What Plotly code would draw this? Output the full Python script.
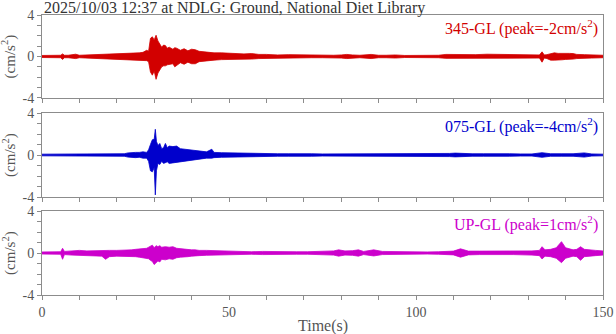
"""Three-component accelerogram, NDLG ground station."""
import plotly.graph_objects as go
from plotly.subplots import make_subplots

FONT = "Liberation Serif"
AXIS_GRAY = "#8c8c8c"
TEXT_GRAY = "#555555"

TITLE = "2025/10/03 12:37 at NDLG: Ground, National Diet Library"
LABELS = ["345-GL (peak=-2cm/s<sup>2</sup>)",
          "075-GL (peak=-4cm/s<sup>2</sup>)",
          "UP-GL (peak=1cm/s<sup>2</sup>)"]
COLORS = ["#d20000", "#0000cc", "#cc00cc"]

# envelope of each trace (upper / lower amplitude, cm/s^2)
t_345 = [0, 2, 4, 5, 5.5, 6, 7, 8.5, 9, 10,
         12, 14, 16, 18, 20, 22, 24, 25, 26, 27,
         28, 28.5, 29, 29.5, 30, 30.5, 31, 31.5, 32, 32.5,
         33, 33.5, 34, 35, 35.5, 36, 37, 38, 39, 40,
         41, 42, 43, 44, 45, 46, 48, 50, 52, 54,
         56, 58, 60, 63, 66, 69, 72, 75, 78, 80,
         81.5, 83, 85, 88, 90, 92, 94.5, 97, 100, 103,
         106, 108, 110, 113, 116, 119, 122, 125, 128, 131,
         133, 133.7, 134.3, 135, 136, 137, 138, 139, 140, 141,
         142, 143, 145, 147, 150]
hi_345 = [0.10, 0.10, 0.12, 0.12, 0.25, 0.12, 0.12, 0.15, 0.22, 0.12,
          0.15, 0.15, 0.20, 0.22, 0.25, 0.25, 0.30, 0.30, 0.35, 0.40,
          0.60, 0.50, 1.75, 1.90, 1.60, 2.05, 1.50, 1.20, 0.90, 1.10,
          1.05, 0.80, 0.90, 0.70, 0.85, 0.80, 0.60, 0.75, 0.55, 0.70,
          0.65, 0.50, 0.45, 0.45, 0.40, 0.35, 0.35, 0.30, 0.28, 0.25,
          0.28, 0.20, 0.20, 0.15, 0.18, 0.15, 0.15, 0.12, 0.12, 0.15,
          0.20, 0.15, 0.12, 0.20, 0.12, 0.12, 0.15, 0.10, 0.10, 0.10,
          0.12, 0.20, 0.18, 0.20, 0.18, 0.22, 0.20, 0.18, 0.18, 0.15,
          0.15, 0.45, 0.15, 0.18, 0.30, 0.35, 0.30, 0.32, 0.28, 0.30,
          0.28, 0.20, 0.18, 0.15, 0.12]
lo_345 = [-0.10, -0.10, -0.12, -0.12, -0.28, -0.12, -0.12, -0.15, -0.20, -0.12,
          -0.15, -0.15, -0.20, -0.22, -0.25, -0.28, -0.30, -0.32, -0.35, -0.40,
          -0.40, -0.50, -1.50, -1.80, -1.40, -2.20, -1.60, -1.30, -1.00, -0.90,
          -0.90, -0.80, -0.75, -0.70, -1.00, -0.85, -0.60, -0.75, -0.55, -0.70,
          -0.70, -0.50, -0.45, -0.40, -0.40, -0.35, -0.30, -0.30, -0.25, -0.25,
          -0.25, -0.20, -0.18, -0.15, -0.15, -0.15, -0.12, -0.12, -0.12, -0.15,
          -0.20, -0.15, -0.12, -0.20, -0.12, -0.12, -0.15, -0.10, -0.10, -0.10,
          -0.12, -0.18, -0.18, -0.20, -0.18, -0.20, -0.20, -0.18, -0.15, -0.15,
          -0.15, -0.55, -0.15, -0.20, -0.35, -0.35, -0.30, -0.32, -0.28, -0.30,
          -0.25, -0.20, -0.15, -0.15, -0.12]

t_075 = [0, 3, 5, 5.3, 5.6, 8, 11, 14, 16, 18,
         20, 22, 23, 24, 25, 26, 27, 28, 28.5, 29,
         29.5, 30, 30.3, 30.6, 31, 31.5, 32, 32.5, 33, 33.5,
         34, 35, 36, 37, 38, 39, 40, 41, 42, 43,
         44, 45.4, 46, 48, 50, 52, 54, 57, 60, 63,
         66, 69, 72, 75, 78, 81, 84, 88.3, 91, 94,
         97, 100, 103, 106, 109, 110.5, 112, 115, 118, 121,
         123, 125, 128, 131, 133.7, 136, 139, 142, 145, 147,
         150]
hi_075 = [0.08, 0.08, 0.08, 0.15, 0.08, 0.08, 0.10, 0.10, 0.15, 0.10,
          0.10, 0.12, 0.20, 0.25, 0.25, 0.25, 0.30, 0.25, 0.50, 1.00,
          1.45, 1.50, 2.45, 1.30, 0.90, 1.10, 0.60, 0.70, 1.10, 0.70,
          0.85, 0.80, 0.85, 0.60, 0.55, 0.55, 0.45, 0.45, 0.35, 0.30,
          0.30, 0.55, 0.25, 0.22, 0.20, 0.20, 0.15, 0.12, 0.12, 0.12,
          0.12, 0.15, 0.12, 0.10, 0.10, 0.10, 0.10, 0.15, 0.10, 0.15,
          0.08, 0.08, 0.08, 0.10, 0.15, 0.18, 0.15, 0.12, 0.12, 0.12,
          0.18, 0.12, 0.10, 0.10, 0.22, 0.12, 0.12, 0.12, 0.20, 0.10,
          0.08]
lo_075 = [-0.08, -0.08, -0.08, -0.15, -0.08, -0.08, -0.10, -0.10, -0.15, -0.10,
          -0.10, -0.12, -0.20, -0.25, -0.25, -0.22, -0.30, -0.30, -0.60, -1.50,
          -1.60, -1.20, -3.80, -1.50, -0.80, -0.90, -0.60, -0.80, -0.75, -0.65,
          -0.80, -0.75, -0.70, -0.60, -0.55, -0.50, -0.45, -0.40, -0.35, -0.30,
          -0.30, -0.30, -0.25, -0.22, -0.20, -0.18, -0.15, -0.12, -0.12, -0.12,
          -0.12, -0.15, -0.12, -0.10, -0.10, -0.10, -0.10, -0.15, -0.10, -0.15,
          -0.08, -0.08, -0.08, -0.10, -0.15, -0.18, -0.15, -0.12, -0.12, -0.12,
          -0.18, -0.12, -0.10, -0.10, -0.22, -0.12, -0.12, -0.12, -0.20, -0.10,
          -0.08]

t_up = [0, 3, 5, 5.5, 6, 8, 10, 12, 14, 16,
        17, 18, 20, 22, 24, 25, 26, 27, 28, 28.5,
        29, 29.5, 30, 30.5, 31, 31.5, 32, 33, 34, 35,
        36, 37, 38, 39, 40, 41, 42, 44, 46, 48,
        50, 53, 56, 59, 62, 65, 68, 71, 74, 76,
        78, 79.3, 81, 83, 84.6, 86, 88.7, 91, 94, 97,
        100, 103, 106, 108, 110, 111.9, 114, 117, 120, 123,
        126, 129, 131, 133, 133.7, 134.5, 136, 137.5, 138.9, 140,
        141, 142, 143, 144, 145, 146, 148, 150]
hi_up = [0.10, 0.10, 0.12, 0.45, 0.15, 0.20, 0.25, 0.20, 0.22, 0.30,
         0.30, 0.25, 0.25, 0.25, 0.30, 0.35, 0.40, 0.40, 0.45, 0.55,
         0.65, 0.75, 0.50, 0.70, 0.60, 0.70, 0.55, 0.60, 0.55, 0.60,
         0.45, 0.40, 0.40, 0.35, 0.30, 0.30, 0.25, 0.25, 0.22, 0.18,
         0.15, 0.15, 0.12, 0.15, 0.12, 0.12, 0.12, 0.12, 0.15, 0.12,
         0.20, 0.30, 0.20, 0.22, 0.30, 0.15, 0.30, 0.15, 0.12, 0.12,
         0.12, 0.10, 0.12, 0.15, 0.18, 0.40, 0.18, 0.18, 0.18, 0.15,
         0.15, 0.15, 0.20, 0.25, 0.60, 0.30, 0.35, 0.50, 1.08, 0.50,
         0.40, 0.30, 0.35, 0.60, 0.35, 0.30, 0.25, 0.20]
lo_up = [-0.10, -0.10, -0.12, -0.60, -0.15, -0.20, -0.22, -0.20, -0.25, -0.30,
         -0.60, -0.35, -0.30, -0.30, -0.30, -0.35, -0.40, -0.45, -0.50, -0.55,
         -0.70, -0.80, -1.10, -0.90, -0.75, -0.85, -0.60, -0.65, -0.55, -0.60,
         -0.45, -0.40, -0.40, -0.35, -0.30, -0.30, -0.25, -0.22, -0.20, -0.18,
         -0.15, -0.15, -0.12, -0.15, -0.12, -0.12, -0.12, -0.12, -0.15, -0.12,
         -0.20, -0.30, -0.20, -0.22, -0.30, -0.15, -0.28, -0.15, -0.12, -0.12,
         -0.12, -0.10, -0.12, -0.15, -0.18, -0.40, -0.18, -0.15, -0.18, -0.15,
         -0.15, -0.15, -0.20, -0.25, -0.57, -0.30, -0.35, -0.50, -0.92, -0.50,
         -0.40, -0.30, -0.35, -0.70, -0.35, -0.30, -0.25, -0.20]

SERIES = [(t_345, hi_345, lo_345), (t_075, hi_075, lo_075), (t_up, hi_up, lo_up)]

fig = make_subplots(rows=3, cols=1, shared_xaxes=True, vertical_spacing=0.05)

for i, (t, hi, lo) in enumerate(SERIES):
    row = i + 1
    fig.add_trace(go.Scatter(x=t, y=hi, mode="lines",
                             line=dict(color=COLORS[i], width=0.8),
                             showlegend=False, hoverinfo="skip"), row=row, col=1)
    fig.add_trace(go.Scatter(x=t, y=lo, mode="lines", fill="tonexty",
                             fillcolor=COLORS[i],
                             line=dict(color=COLORS[i], width=0.8),
                             showlegend=False, hoverinfo="skip"), row=row, col=1)

# pixel-matched panel heights (plot area 15..295 px)
domains = [[0.7036, 1.0], [0.35, 0.65], [0.0, 0.30]]
for i in range(3):
    sfx = "" if i == 0 else str(i + 1)
    fig.layout["yaxis" + sfx].update(
        domain=domains[i], range=[-4, 4], automargin=False,
        tickvals=[-4, 0, 4], ticktext=["-4", "0", "4"],
        ticks="outside", ticklen=4, tickcolor=AXIS_GRAY,
        minor=dict(dtick=1, ticks="outside", ticklen=4, tickcolor=AXIS_GRAY),
        showline=True, linecolor=AXIS_GRAY, linewidth=1, mirror=True,
        showgrid=False, zeroline=False,
        tickfont=dict(family=FONT, size=14, color=TEXT_GRAY),
    )
    fig.layout["xaxis" + sfx].update(
        range=[0, 150], tickvals=[0, 50, 100, 150], automargin=False,
        ticks="outside", ticklen=4, tickcolor=AXIS_GRAY,
        minor=dict(dtick=10, ticks="outside", ticklen=4, tickcolor=AXIS_GRAY),
        showline=True, linecolor=AXIS_GRAY, linewidth=1, mirror=True,
        showgrid=False, zeroline=False,
        tickfont=dict(family=FONT, size=14, color=TEXT_GRAY),
    )
    fig.add_annotation(text=LABELS[i], xref=f"x{sfx} domain", yref=f"y{sfx} domain",
                       x=0.995, y=1.0, xanchor="right", yanchor="top",
                       showarrow=False,
                       font=dict(family=FONT, size=16, color=COLORS[i]))
    mid = sum(domains[i]) / 2
    fig.add_annotation(text="(cm/s<sup>2</sup>)", xref="paper", yref="paper",
                       x=-0.059, y=mid, xanchor="center", yanchor="middle",
                       textangle=-90, showarrow=False,
                       font=dict(family=FONT, size=15, color=TEXT_GRAY))

fig.add_annotation(text="Time(s)", xref="paper", yref="paper",
                   x=0.5, y=-0.111, xanchor="center", yanchor="middle",
                   showarrow=False,
                   font=dict(family=FONT, size=16, color=TEXT_GRAY))

fig.add_annotation(text=TITLE, xref="paper", yref="paper", x=0.0, y=1.025,
                   xanchor="left", yanchor="middle", showarrow=False,
                   font=dict(family=FONT, size=16, color="#333333"))

fig.update_layout(
    width=616, height=334,
    margin=dict(l=42, r=13, t=15, b=39, autoexpand=False),
    paper_bgcolor="white", plot_bgcolor="white",
    font=dict(family=FONT),
)

# page body has a default 8px margin; drop it so the figure sits at the corner
fig.write_html("out.html", config={"displayModeBar": False},
               post_script="document.body.style.margin='0';")
